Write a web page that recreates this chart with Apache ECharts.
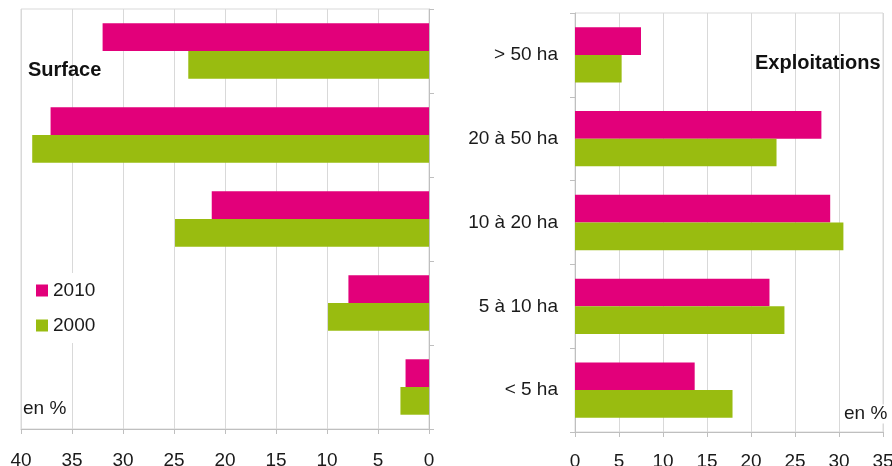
<!DOCTYPE html>
<html>
<head>
<meta charset="utf-8">
<script src="https://cdn.jsdelivr.net/npm/echarts@6/dist/echarts.min.js"></script>
<style>
  html, body { margin: 0; padding: 0; background: #fff; }
  #chart { width: 892px; height: 466px; }
</style>
</head>
<body>
<div id="chart"></div>
<script>
// Farm size classes, top to bottom
const categories = ['> 50 ha', '20 à 50 ha', '10 à 20 ha', '5 à 10 ha', '< 5 ha'];
// Share of farmland (%) by size class
const surface2010 = [32.0, 37.1, 21.3, 7.9, 2.3];
const surface2000 = [23.6, 38.9, 24.9, 9.9, 2.8];
// Share of farms (%) by size class
const exploit2010 = [7.5, 28.0, 29.0, 22.1, 13.6];
const exploit2000 = [5.3, 22.9, 30.5, 23.8, 17.9];
const years = ['2010', '2000'];

const MAGENTA = '#e2007a';
const GREEN = '#99bc10';
const FONT = '"Liberation Sans", Arial, sans-serif';
const GRID_LINE = '#d9d9d9';
const AXIS_LINE = '#bfbfbf';

const chart = echarts.init(document.getElementById('chart'), null, { renderer: 'canvas' });

function valueAxis(gridIndex, max, inverse, margin) {
  return {
    type: 'value', gridIndex, min: 0, max, interval: 5, inverse,
    axisLine: { show: true, lineStyle: { color: AXIS_LINE, width: 1 } },
    axisTick: { show: true, length: 5, lineStyle: { color: AXIS_LINE } },
    splitLine: { show: true, lineStyle: { color: GRID_LINE, width: 1 } },
    axisLabel: { fontFamily: FONT, fontSize: 19, color: '#1a1a1a', margin }
  };
}

function categoryAxis(gridIndex, position, showLabels) {
  return {
    type: 'category', gridIndex, data: categories, inverse: true, position,
    axisLine: { show: true, lineStyle: { color: AXIS_LINE, width: 1 } },
    axisTick: { show: true, length: 5, lineStyle: { color: AXIS_LINE } },
    axisLabel: { show: showLabels, fontFamily: FONT, fontSize: 19, color: '#1a1a1a', margin: 17 }
  };
}

function barSeries(name, data, axisIndex, color) {
  return {
    name, type: 'bar', data, xAxisIndex: axisIndex, yAxisIndex: axisIndex,
    barGap: '0%', barCategoryGap: '34%',
    itemStyle: { color },
    emphasis: { disabled: true }
  };
}

chart.setOption({
  animation: false,
  backgroundColor: '#fff',
  grid: [
    { left: 21, right: 463, top: 9, bottom: 37, outerBoundsMode: 'none',
      show: true, borderColor: GRID_LINE, borderWidth: 1 },
    { left: 575, right: 9, top: 13, bottom: 34, outerBoundsMode: 'none',
      show: true, borderColor: GRID_LINE, borderWidth: 1 }
  ],
  xAxis: [
    valueAxis(0, 40, true, 22),
    valueAxis(1, 35, false, 20)
  ],
  yAxis: [
    categoryAxis(0, 'right', false),
    categoryAxis(1, 'left', true)
  ],
  legend: {
    data: years,
    orient: 'vertical',
    left: 24, top: 273,
    padding: [8, 12],
    backgroundColor: '#fff',
    icon: 'rect',
    itemWidth: 12, itemHeight: 12, itemGap: 16,
    textStyle: { fontFamily: FONT, fontSize: 19, color: '#1a1a1a' }
  },
  series: [
    barSeries('2010', surface2010, 0, MAGENTA),
    barSeries('2000', surface2000, 0, GREEN),
    barSeries('2010', exploit2010, 1, MAGENTA),
    barSeries('2000', exploit2000, 1, GREEN)
  ],
  graphic: [
    { type: 'text', x: 28, y: 70, z: 10,
      style: { text: 'Surface', font: 'bold 20px ' + FONT, fill: '#111', verticalAlign: 'middle' } },
    { type: 'text', x: 755, y: 63, z: 10,
      style: { text: 'Exploitations', font: 'bold 20px ' + FONT, fill: '#111', verticalAlign: 'middle' } },
    { type: 'text', x: 23, y: 409, z: 10,
      style: { text: 'en %', font: '19px ' + FONT, fill: '#1a1a1a', verticalAlign: 'middle' } },
    { type: 'text', x: 844, y: 414, z: 10,
      style: { text: 'en %', font: '19px ' + FONT, fill: '#1a1a1a', verticalAlign: 'middle',
               backgroundColor: '#fff' } }
  ]
});
</script>
</body>
</html>
